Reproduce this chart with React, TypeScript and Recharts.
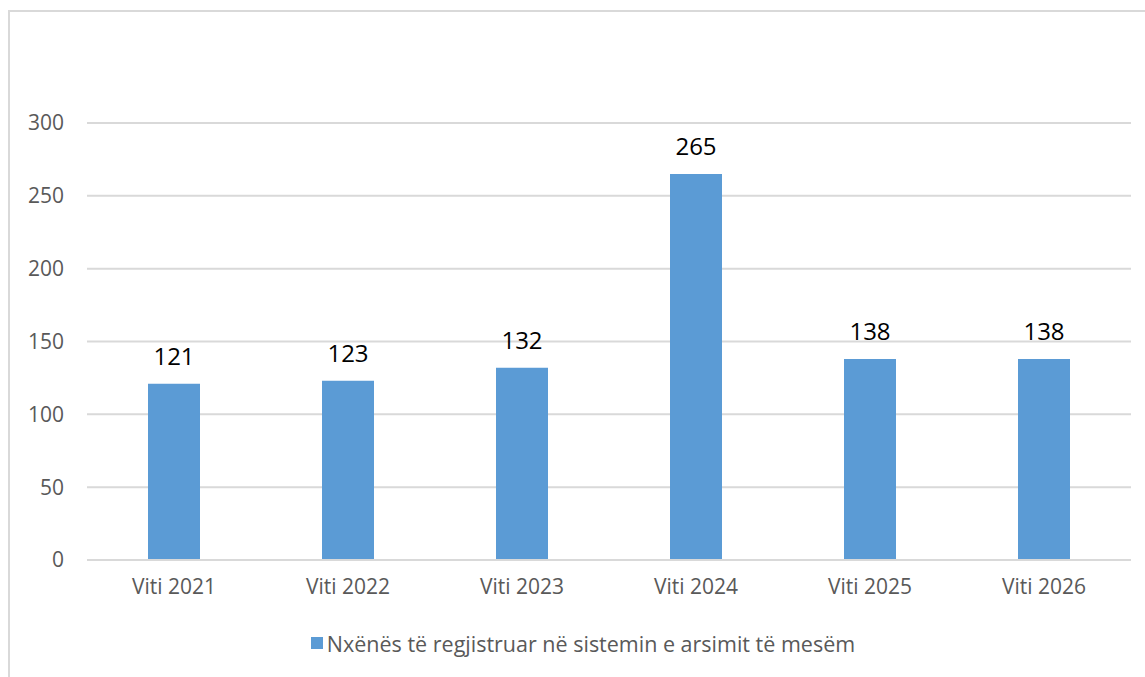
import { BarChart, Bar, XAxis, YAxis, CartesianGrid, Legend, LabelList } from "recharts";

const YEARS = ["Viti 2021", "Viti 2022", "Viti 2023", "Viti 2024", "Viti 2025", "Viti 2026"];
const STUDENTS = [121, 123, 132, 265, 138, 138];
const Y_TICKS = [0, 50, 100, 150, 200, 250, 300];
const SERIES_NAME = "Nxënës të regjistruar në sistemin e arsimit të mesëm";

const BAR_COLOR = "#5B9BD5";
const GRID_COLOR = "#d9d9d9";
const FONT = "'Open Sans', 'DejaVu Sans', sans-serif";

const data = YEARS.map((year, i) => ({ year, value: STUDENTS[i] }));

function LegendContent() {
  return (
    <div
      style={{
        display: "flex",
        alignItems: "center",
        justifyContent: "center",
        height: 30,
        fontFamily: FONT,
        fontSize: 21.5,
        color: "#595959",
        paddingLeft: 35,
      }}
    >
      <span style={{ width: 12, height: 12, background: BAR_COLOR, marginRight: 4 }} />
      <span>{SERIES_NAME}</span>
    </div>
  );
}

export default function App() {
  return (
    <div style={{ position: "absolute", left: 0, top: 0, width: 1145, height: 677, background: "#fff" }}>
      <div
        style={{
          position: "absolute",
          left: 8,
          top: 10,
          right: 0,
          bottom: 0,
          borderTop: `2px solid ${GRID_COLOR}`,
          borderLeft: `2px solid ${GRID_COLOR}`,
        }}
      />
      <BarChart
        width={1145}
        height={677}
        data={data}
        margin={{ top: 123, right: 14, left: 0, bottom: 19 }}
        style={{ position: "absolute", left: 0, top: 0 }}
      >
        <CartesianGrid vertical={false} stroke={GRID_COLOR} strokeWidth={2} />
        <XAxis
          dataKey="year"
          height={68}
          tickLine={false}
          axisLine={{ stroke: GRID_COLOR, strokeWidth: 2 }}
          tickMargin={13}
          tick={{ fill: "#595959", fontSize: 21, fontFamily: FONT }}
        />
        <YAxis
          width={87}
          domain={[0, 300]}
          ticks={Y_TICKS}
          tickLine={false}
          axisLine={false}
          tickMargin={17}
          tick={{ fill: "#595959", fontSize: 21, fontFamily: FONT }}
        />
        <Legend verticalAlign="bottom" content={<LegendContent />} wrapperStyle={{ height: 30 }} />
        <Bar dataKey="value" name={SERIES_NAME} fill={BAR_COLOR} barSize={52} isAnimationActive={false}>
          <LabelList
            dataKey="value"
            position="top"
            offset={19}
            fill="#000"
            fontSize={24}
            fontFamily={FONT}
          />
        </Bar>
      </BarChart>
    </div>
  );
}
